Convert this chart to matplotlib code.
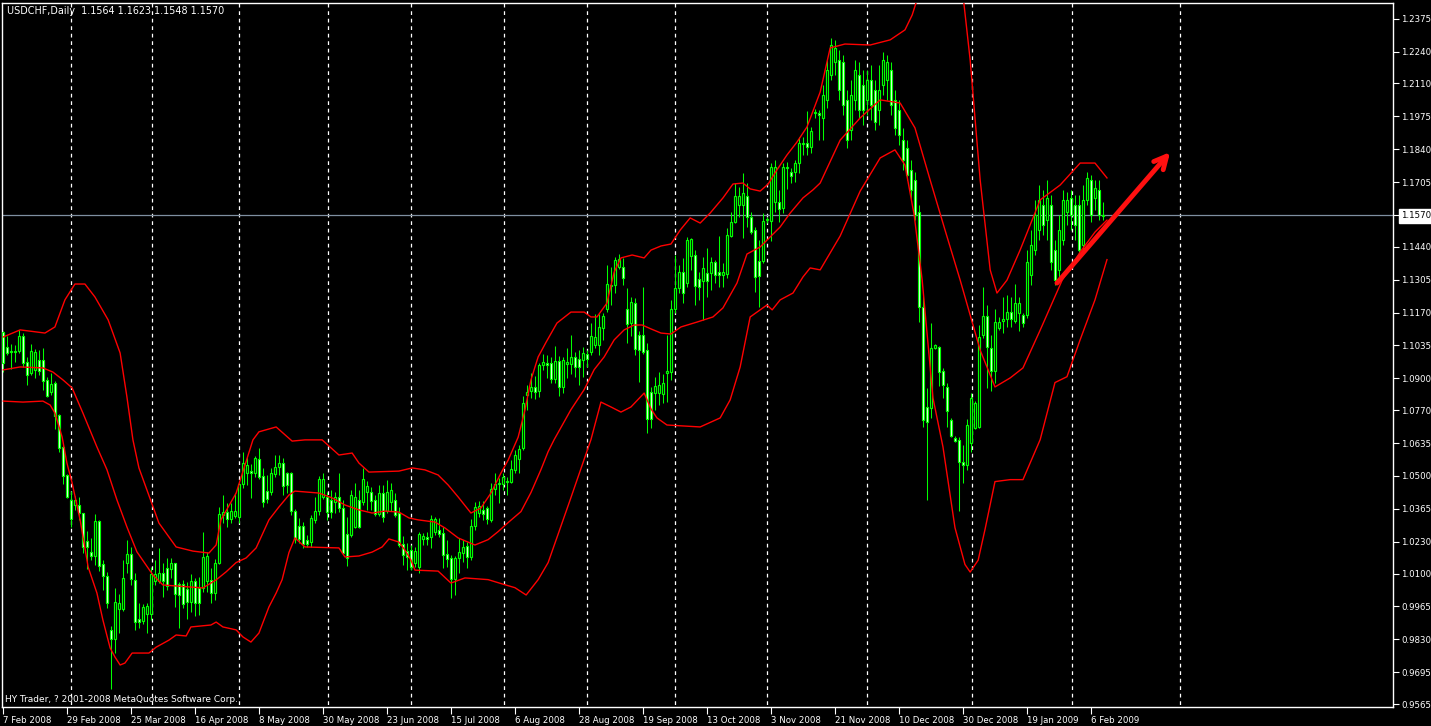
import numpy as np
import matplotlib
matplotlib.use("Agg")
import matplotlib.pyplot as plt

# ---------------- data ----------------
body_hi = [
 1.1090,1.1029,1.1012,1.1011,1.1074,1.1074,1.0969,1.1014,1.1007,1.0974,
 1.0976,1.0894,1.0877,1.0880,1.0750,1.0618,1.0503,1.0402,1.0402,1.0380,
 1.0347,1.0233,1.0187,1.0316,1.0316,1.0138,1.0090,0.9870,0.9983,0.9978,
 1.0081,1.0179,1.0179,1.0074,0.9912,0.9961,0.9967,1.0097,1.0098,1.0104,
 1.0104,1.0121,1.0145,1.0142,1.0056,1.0056,1.0038,1.0068,1.0068,1.0042,
 1.0166,1.0172,1.0074,1.0145,1.0343,1.0351,1.0351,1.0358,1.0358,1.0467,
 1.0552,1.0545,1.0520,1.0572,1.0568,1.0500,1.0438,1.0511,1.0538,1.0552,
 1.0552,1.0511,1.0511,1.0358,1.0295,1.0295,1.0238,1.0327,1.0358,1.0486,
 1.0486,1.0412,1.0402,1.0412,1.0412,1.0367,1.0261,1.0422,1.0415,1.0402,
 1.0486,1.0459,1.0433,1.0402,1.0429,1.0429,1.0436,1.0443,1.0402,1.0347,
 1.0220,1.0192,1.0197,1.0194,1.0262,1.0254,1.0248,1.0322,1.0322,1.0279,
 1.0265,1.0180,1.0163,1.0163,1.0190,1.0208,1.0213,1.0295,1.0374,1.0377,
 1.0361,1.0367,1.0445,1.0466,1.0472,1.0495,1.0481,1.0528,1.0586,1.0609,
 1.0798,1.0846,1.0866,1.0866,1.0955,1.0969,1.0965,1.0962,1.0971,1.0971,
 1.0976,1.0969,1.0989,1.0989,1.0978,1.1003,1.1000,1.1074,1.1068,1.1112,
 1.1156,1.1286,1.1283,1.1386,1.1388,1.1355,1.1183,1.1214,1.1210,1.1078,
 1.1078,1.1016,1.0846,1.0869,1.0873,1.0880,1.0930,1.1183,1.1270,1.1338,
 1.1338,1.1468,1.1470,1.1406,1.1306,1.1352,1.1334,1.1376,1.1376,1.1335,
 1.1335,1.1488,1.1543,1.1648,1.1648,1.1659,1.1648,1.1561,1.1508,1.1383,
 1.1547,1.1553,1.1766,1.1766,1.1624,1.1768,1.1768,1.1748,1.1782,1.1864,
 1.1864,1.1864,1.1914,1.1993,1.1987,1.2062,1.2165,1.2268,1.2255,1.2206,
 1.2198,1.2042,1.2062,1.2165,1.2144,1.2103,1.2124,1.2124,1.2083,1.2083,
 1.2206,1.2198,1.2165,1.2042,1.2001,1.1878,1.1845,1.1755,1.1714,1.1582,
 1.1192,1.0781,1.1023,1.1036,1.1028,1.0930,1.0866,1.0730,1.0654,1.0648,
 1.0559,1.0709,1.0819,1.0801,1.1071,1.1156,1.1156,1.1023,1.1133,1.1133,
 1.1142,1.1174,1.1174,1.1210,1.1210,1.1160,1.1377,1.1447,1.1570,1.1632,
 1.1611,1.1640,1.1611,1.1427,1.1509,1.1632,1.1632,1.1640,1.1611,1.1611,
 1.1632,1.1722,1.1714,1.1681,1.1673,1.1570]

body_lo = [
 1.0963,1.1004,1.1010,1.1009,1.1012,1.0963,1.0914,1.0923,1.0934,1.0931,
 1.0891,1.0828,1.0846,1.0746,1.0616,1.0501,1.0415,1.0322,1.0381,1.0350,
 1.0210,1.0210,1.0173,1.0173,1.0132,1.0091,0.9981,0.9830,0.9830,0.9954,
 0.9954,1.0142,1.0077,0.9903,0.9903,0.9907,0.9933,0.9933,1.0071,1.0071,
 1.0069,1.0049,1.0117,1.0016,1.0010,0.9975,0.9985,0.9985,0.9981,0.9981,
 1.0042,1.0069,1.0022,1.0022,1.0145,1.0340,1.0322,1.0322,1.0336,1.0333,
 1.0466,1.0513,1.0511,1.0511,1.0495,1.0395,1.0404,1.0436,1.0507,1.0538,
 1.0460,1.0463,1.0356,1.0240,1.0240,1.0221,1.0221,1.0230,1.0320,1.0358,
 1.0412,1.0353,1.0353,1.0395,1.0367,1.0186,1.0163,1.0258,1.0292,1.0290,
 1.0395,1.0436,1.0399,1.0345,1.0345,1.0331,1.0358,1.0395,1.0340,1.0217,
 1.0176,1.0169,1.0126,1.0142,1.0126,1.0240,1.0240,1.0248,1.0272,1.0262,
 1.0176,1.0159,1.0077,1.0077,1.0163,1.0186,1.0167,1.0167,1.0295,1.0347,
 1.0344,1.0322,1.0320,1.0445,1.0467,1.0467,1.0477,1.0477,1.0525,1.0568,
 1.0613,1.0832,1.0850,1.0846,1.0850,1.0955,1.0955,1.0896,1.0896,1.0863,
 1.0863,1.0959,1.0959,1.0945,1.0945,1.0976,1.0978,1.1010,1.1037,1.1037,
 1.1105,1.1183,1.1279,1.1283,1.1358,1.1310,1.1123,1.1126,1.1019,1.1016,
 1.1010,1.0732,1.0732,1.0839,1.0841,1.0836,1.0921,1.0927,1.1183,1.1270,
 1.1249,1.1290,1.1402,1.1279,1.1276,1.1301,1.1301,1.1331,1.1324,1.1324,
 1.1324,1.1328,1.1484,1.1543,1.1611,1.1611,1.1561,1.1502,1.1317,1.1320,
 1.1383,1.1551,1.1547,1.1624,1.1593,1.1597,1.1762,1.1730,1.1748,1.1782,
 1.1861,1.1850,1.1850,1.1987,1.1980,1.1968,1.2042,1.2144,1.2198,1.2083,
 1.2021,1.1878,1.1919,1.2042,1.2001,1.2001,1.2042,1.2021,1.1951,1.2001,
 1.2103,1.2124,1.2021,1.1927,1.1898,1.1796,1.1734,1.1673,1.1570,1.1193,
 1.0730,1.0723,1.0777,1.1026,1.0927,1.0873,1.0768,1.0664,1.0645,1.0559,
 1.0545,1.0545,1.0637,1.0698,1.0702,1.1078,1.1028,1.0931,1.0931,1.1106,
 1.1137,1.1142,1.1142,1.1137,1.1167,1.1126,1.1160,1.1324,1.1427,1.1508,
 1.1529,1.1550,1.1377,1.1303,1.1345,1.1468,1.1582,1.1570,1.1529,1.1427,
 1.1447,1.1632,1.1570,1.1640,1.1570,1.1564]

high = [
 1.1095,1.1074,1.1041,1.1037,1.1099,1.1086,1.0989,1.1041,1.1019,1.1016,
 1.1023,1.0907,1.0923,1.0891,1.0753,1.0634,1.0508,1.0440,1.0418,1.0415,
 1.0350,1.0276,1.0244,1.0345,1.0320,1.0156,1.0108,0.9885,1.0041,1.0016,
 1.0156,1.0238,1.0210,1.0101,0.9978,0.9975,0.9978,1.0128,1.0156,1.0203,
 1.0142,1.0162,1.0162,1.0145,1.0067,1.0074,1.0064,1.0098,1.0080,1.0087,
 1.0272,1.0190,1.0121,1.0158,1.0372,1.0422,1.0388,1.0388,1.0429,1.0470,
 1.0597,1.0582,1.0549,1.0582,1.0613,1.0531,1.0504,1.0531,1.0586,1.0586,
 1.0572,1.0518,1.0518,1.0363,1.0326,1.0312,1.0258,1.0340,1.0415,1.0500,
 1.0513,1.0435,1.0443,1.0435,1.0511,1.0402,1.0333,1.0443,1.0470,1.0443,
 1.0531,1.0480,1.0456,1.0422,1.0463,1.0463,1.0484,1.0470,1.0429,1.0374,
 1.0254,1.0224,1.0217,1.0210,1.0272,1.0266,1.0272,1.0340,1.0333,1.0326,
 1.0292,1.0238,1.0176,1.0170,1.0244,1.0238,1.0230,1.0322,1.0395,1.0399,
 1.0399,1.0377,1.0470,1.0511,1.0490,1.0511,1.0497,1.0566,1.0607,1.0627,
 1.0828,1.0873,1.0921,1.0910,1.0962,1.1000,1.0996,1.0987,1.1033,1.0992,
 1.0989,1.1023,1.1078,1.1009,1.1016,1.1030,1.1016,1.1126,1.1164,1.1166,
 1.1169,1.1365,1.1358,1.1397,1.1410,1.1392,1.1270,1.1235,1.1228,1.1096,
 1.1274,1.1044,1.0866,1.0907,1.0927,1.0918,1.1078,1.1222,1.1406,1.1365,
 1.1392,1.1481,1.1474,1.1427,1.1338,1.1399,1.1433,1.1399,1.1386,1.1484,
 1.1372,1.1515,1.1584,1.1700,1.1686,1.1741,1.1702,1.1584,1.1522,1.1468,
 1.1577,1.1563,1.1782,1.1796,1.1673,1.1782,1.1789,1.1762,1.1796,1.1891,
 1.1889,1.1996,1.1932,1.2003,1.2000,1.2103,1.2206,1.2296,1.2288,1.2247,
 1.2226,1.2083,1.2124,1.2206,1.2198,1.2165,1.2165,1.2185,1.2124,1.2185,
 1.2238,1.2226,1.2198,1.2083,1.2042,1.1927,1.1878,1.1796,1.1747,1.1611,
 1.1238,1.0859,1.1126,1.1041,1.1033,1.0941,1.0880,1.0736,1.0664,1.0661,
 1.0627,1.0732,1.0839,1.0809,1.1119,1.1276,1.1201,1.1078,1.1183,1.1153,
 1.1232,1.1242,1.1235,1.1287,1.1232,1.1167,1.1427,1.1509,1.1632,1.1693,
 1.1673,1.1714,1.1652,1.1468,1.1570,1.1673,1.1664,1.1673,1.1652,1.1652,
 1.1693,1.1746,1.1734,1.1714,1.1714,1.1623]

low = [
 1.0926,1.0996,1.0939,1.0969,1.1005,1.0948,1.0873,1.0914,1.0900,1.0914,
 1.0852,1.0825,1.0832,1.0694,1.0600,1.0467,1.0408,1.0292,1.0361,1.0320,
 1.0183,1.0118,1.0156,1.0135,1.0112,1.0032,0.9957,0.9625,0.9773,0.9855,
 0.9948,1.0101,1.0053,0.9868,0.9876,0.9893,0.9858,0.9910,1.0053,1.0060,
 1.0003,1.0033,1.0080,0.9963,0.9876,0.9957,0.9912,0.9944,0.9925,0.9930,
 1.0026,1.0026,0.9981,0.9992,1.0140,1.0306,1.0290,1.0306,1.0327,1.0306,
 1.0450,1.0463,1.0411,1.0497,1.0486,1.0374,1.0388,1.0422,1.0497,1.0504,
 1.0422,1.0429,1.0340,1.0224,1.0224,1.0203,1.0210,1.0207,1.0306,1.0340,
 1.0404,1.0320,1.0327,1.0347,1.0353,1.0183,1.0131,1.0251,1.0285,1.0285,
 1.0381,1.0361,1.0361,1.0336,1.0336,1.0312,1.0350,1.0358,1.0333,1.0210,
 1.0135,1.0115,1.0115,1.0125,1.0101,1.0217,1.0217,1.0203,1.0258,1.0251,
 1.0121,1.0128,0.9999,1.0012,1.0101,1.0149,1.0121,1.0156,1.0279,1.0333,
 1.0320,1.0303,1.0312,1.0422,1.0388,1.0443,1.0422,1.0470,1.0511,1.0511,
 1.0607,1.0771,1.0819,1.0815,1.0822,1.0934,1.0900,1.0880,1.0882,1.0828,
 1.0841,1.0900,1.0918,1.0907,1.0873,1.0907,1.0948,1.0996,1.1023,1.0996,
 1.1058,1.1174,1.1201,1.1249,1.1347,1.1283,1.1045,1.1072,1.0996,1.0887,
 1.1000,1.0675,1.0695,1.0771,1.0791,1.0798,1.0805,1.0894,1.1167,1.1249,
 1.1208,1.1276,1.1345,1.1201,1.1222,1.1140,1.1235,1.1262,1.1290,1.1274,
 1.1276,1.1310,1.1479,1.1536,1.1563,1.1474,1.1522,1.1492,1.1256,1.1194,
 1.1372,1.1536,1.1465,1.1584,1.1543,1.1579,1.1676,1.1702,1.1706,1.1744,
 1.1816,1.1816,1.1823,1.1966,1.1878,1.1878,1.2009,1.2124,1.2144,1.2042,
 1.1980,1.1845,1.1878,1.2001,1.1968,1.1939,1.1980,1.1960,1.1919,1.1939,
 1.2062,1.2042,1.1980,1.1898,1.1857,1.1755,1.1714,1.1632,1.1550,1.1133,
 1.0700,1.0402,1.0736,1.1019,1.0869,1.0819,1.0702,1.0659,1.0641,1.0358,
 1.0470,1.0525,1.0600,1.0691,1.0695,1.1064,1.0859,1.0850,1.0880,1.1099,
 1.1085,1.1112,1.1112,1.1128,1.1096,1.1112,1.1148,1.1283,1.1406,1.1468,
 1.1488,1.1468,1.1345,1.1283,1.1303,1.1447,1.1529,1.1509,1.1468,1.1406,
 1.1427,1.1611,1.1542,1.1591,1.1550,1.1548]

# B = bull candle (black body), S = bear candle (white body)
direction = ("SSSSBSSBBS" "SSBSSSSSBS" "SSSBSSSSBB" "BBSSSBBBBB" "SSBSSSSBSS"
             "BBSBBBSBBB" "BBSBSSSBBB" "SSSSSSSBBB" "BSSBSSSBBS" "BBSSBSBBSS"
             "SSSBBBSBBS" "SSSBBBSBBB" "SSBBBBSBBB" "BBBSBBSSBS" "BBBSSBSBBB"
             "BBBBBSSBSS" "SSSBBBBBBB" "SBBSSBSBSS" "BBBBBBSSSS" "BBBBSBBSBB"
             "BSBBSBBBBS" "SSBBSSBSSB" "BBSSSSSSSS" "SSBBSSSSSS" "SBBBBBSSBB"
             "BBSBBSBBBB" "SBSSBBBSSS" "BBSBSB")

# Bollinger bands (upper / middle / lower), sampled along the bar axis
upper_bar = [0,4.2,10.4,12.9,15.4,17.9,20.4,22.9,26.2,27.4,29.2,30.9,32.4,33.9,38.9,43.2,47.4,51.4,53.2,54.4,
             58.2,62.4,63.9,68.2,72.2,75.4,79.7,83.9,87.2,88.9,91.4,98.9,102.2,105.4,108.7,111.2,113.7,116.9,119.4,
             121.9,124.4,126.2,128.7,130.4,131.9,133.7,135.7,138.4,141.9,145.2,146.9,148.4,150.9,152.7,154.4,157.2,
             160.2,161.9,164.4,166.9,169.2,171.7,174.2,176.7,179.9,182.4,184.9,186.7,189.2,191.2,193.4,195.9,198.4,
             200.9,204.2,206.7,210.4,216.7,221.7,225.4,227.2,228.4,230.4,234.2,237.9,239.9,241.7,244.2,246.7,248.4,
             250.9,254.2,259.2,264.2,269.2,272.9,275.9]
upper_val = [1.1070,1.1099,1.1086,1.1111,1.1222,1.1287,1.1287,1.1234,1.1140,1.1086,1.1004,1.0824,1.0648,1.0533,
             1.0307,1.0209,1.0192,1.0184,1.0217,1.0320,1.0430,1.0648,1.0681,1.0701,1.0643,1.0648,1.0648,1.0586,
             1.0594,1.0553,1.0516,1.0520,1.0533,1.0525,1.0504,1.0463,1.0414,1.0348,1.0369,1.0430,1.0512,1.0565,
             1.0659,1.0770,1.0894,1.0988,1.1049,1.1127,1.1172,1.1172,1.1152,1.1152,1.1209,1.1336,1.1394,1.1406,
             1.1394,1.1426,1.1443,1.1451,1.1508,1.1558,1.1537,1.1578,1.1640,1.1697,1.1701,1.1677,1.1668,1.1697,
             1.1755,1.1816,1.1869,1.1931,1.2074,1.2255,1.2271,1.2267,1.2288,1.2329,1.2390,1.2452,1.2698,1.2862,
             1.2780,1.2472,1.2205,1.1713,1.1345,1.1250,1.1303,1.1427,1.1632,1.1693,1.1783,1.1783,1.1722]

middle_bar = [0,4.2,9.9,12.4,14.9,17.2,19.9,23.4,25.9,28.4,30.9,33.4,37.4,39.9,49.9,53.2,55.7,58.2,60.7,63.2,
              66.4,68.9,71.4,72.9,78.9,82.2,85.4,88.9,92.2,95.4,98.9,101.4,103.7,107.9,110.4,113.7,117.9,121.2,
              123.7,126.2,129.4,131.9,134.4,136.2,137.7,141.9,145.2,147.7,150.2,152.7,155.2,157.7,159.7,161.9,
              164.4,166.9,169.4,173.4,177.4,179.9,183.4,185.9,189.2,191.7,194.2,196.7,199.9,202.4,204.2,209.2,
              214.2,219.2,224.2,227.9,231.7,235.4,239.2,244.2,247.9,251.7,254.9,259.2,264.7,269.2,272.9,275.9]
middle_val = [1.0935,1.0947,1.0943,1.0926,1.0894,1.0861,1.0758,1.0619,1.0526,1.0402,1.0291,1.0189,1.0094,1.0053,
              1.0041,1.0074,1.0107,1.0145,1.0164,1.0205,1.0320,1.0373,1.0422,1.0438,1.0430,1.0410,1.0381,1.0361,
              1.0348,1.0356,1.0352,1.0328,1.0320,1.0311,1.0287,1.0246,1.0217,1.0239,1.0272,1.0309,1.0354,1.0432,
              1.0526,1.0600,1.0649,1.0772,1.0854,1.0936,1.0988,1.1058,1.1099,1.1119,1.1119,1.1103,1.1086,1.1082,
              1.1111,1.1131,1.1152,1.1189,1.1291,1.1410,1.1439,1.1480,1.1521,1.1578,1.1640,1.1673,1.1701,1.1877,
              1.1968,1.2042,1.2029,1.1927,1.1713,1.1509,1.1303,1.1016,1.0865,1.0902,1.0943,1.1098,1.1303,1.1418,
              1.1500,1.1549]

lower_bar = [0,4.9,9.9,11.7,12.9,14.7,15.9,17.2,19.2,21.2,23.4,24.9,26.7,27.9,29.2,30.4,32.2,36.4,38.2,41.4,
             43.2,45.7,46.9,51.9,53.2,54.9,58.2,59.9,61.9,63.9,66.4,68.2,69.7,71.4,72.9,75.4,83.9,85.4,88.9,92.2,
             94.7,96.4,98.9,100.4,101.9,102.9,108.7,111.9,115.4,121.2,125.4,127.9,130.7,133.7,136.2,141.7,146.9,
             149.4,151.9,154.4,156.9,160.2,161.9,163.4,165.9,174.2,179.2,181.7,184.2,186.7,190.9,192.2,194.2,
             197.4,199.9,201.7,204.2,209.2,214.2,219.2,222.9,225.4,227.7,229.7,232.4,234.9,237.9,240.4,241.7,
             243.7,245.4,247.9,251.7,254.9,259.2,262.9,265.9,269.2,272.9,275.9]
lower_val = [1.0807,1.0803,1.0807,1.0791,1.0758,1.0660,1.0553,1.0471,1.0320,1.0127,1.0020,0.9909,0.9795,0.9758,
             0.9725,0.9733,0.9774,0.9774,0.9798,0.9827,0.9848,0.9844,0.9881,0.9889,0.9901,0.9881,0.9869,0.9840,
             0.9819,0.9856,0.9963,1.0020,1.0075,1.0186,1.0246,1.0209,1.0205,1.0168,1.0172,1.0188,1.0209,1.0242,
             1.0229,1.0196,1.0155,1.0114,1.0110,1.0061,1.0082,1.0075,1.0054,1.0042,1.0012,1.0075,1.0145,1.0402,
             1.0649,1.0803,1.0783,1.0762,1.0783,1.0840,1.0775,1.0738,1.0709,1.0701,1.0738,1.0812,1.0947,1.1152,
             1.1201,1.1181,1.1222,1.1250,1.1316,1.1353,1.1345,1.1484,1.1668,1.1804,1.1837,1.1775,1.1570,1.1303,
             1.0820,1.0619,1.0288,1.0137,1.0106,1.0155,1.0280,1.0477,1.0485,1.0485,1.0649,1.0883,1.0907,1.1059,
             1.1222,1.1387]

date_labels = ["7 Feb 2008", "29 Feb 2008", "25 Mar 2008", "16 Apr 2008", "8 May 2008",
               "30 May 2008", "23 Jun 2008", "15 Jul 2008", "6 Aug 2008", "28 Aug 2008",
               "19 Sep 2008", "13 Oct 2008", "3 Nov 2008", "21 Nov 2008", "10 Dec 2008",
               "30 Dec 2008", "19 Jan 2009", "6 Feb 2009"]
date_bars = [0, 16, 32, 48, 64, 80, 96, 112, 128, 144, 160, 176, 192, 208, 224, 240, 256, 272]

price_ticks = [1.2375, 1.2240, 1.2110, 1.1975, 1.1840, 1.1705, 1.1570, 1.1440, 1.1305, 1.1170,
               1.1035, 1.0900, 1.0770, 1.0635, 1.0500, 1.0365, 1.0230, 1.0100, 0.9965, 0.9830,
               0.9695, 0.9565]
price_labels = ["%.4f" % v for v in price_ticks]

grid_bars = [16.9, 37.2, 58.9, 81.2, 101.9, 125.2, 145.9, 167.9, 190.9, 215.9, 242.2, 267.2, 294.2]

last_price = 1.1570
title_text = "USDCHF,Daily  1.1564 1.1623 1.1548 1.1570"
copyright_text = "HY Trader, ? 2001-2008 MetaQuotes Software Corp."
arrow_from = (263.4, 1.1291)
arrow_to = (291.7, 1.1828)

# ---------------- drawing ----------------
W, H = 1431, 726
fig = plt.figure(figsize=(W / 100, H / 100), dpi=100)
fig.patch.set_facecolor("black")
ax = fig.add_axes([2 / W, 19 / H, 1391 / W, 704 / H])
ax.set_facecolor("black")

n = len(body_hi)
x = np.arange(n)
bhi = np.array(body_hi)
blo = np.array(body_lo)
bull = np.array([c == "B" for c in direction])
opens = np.where(bull, blo, bhi)
closes = np.where(bull, bhi, blo)

lime = "#00FF00"
ax.vlines(grid_bars, 0.9, 1.3, colors="white", linestyles=(0, (3, 3)), linewidth=0.9, zorder=1)
ax.axhline(last_price, color="#7F8FA0", linewidth=0.9, zorder=1.5)

ax.vlines(x, low, high, colors=lime, linewidth=0.75, zorder=2)
bottoms = np.minimum(opens, closes)
heights = np.maximum(np.abs(closes - opens), 0.00005)
ax.bar(x, heights, bottom=bottoms, width=0.45,
       color=np.where(bull, "black", "white"), edgecolor=lime, linewidth=0.85, zorder=3)

for bx, bv in ((upper_bar, upper_val), (middle_bar, middle_val), (lower_bar, lower_val)):
    ax.plot(bx, bv, color="#FF0000", linewidth=1.0, zorder=4)

ax.annotate("", xy=arrow_to, xytext=arrow_from,
            arrowprops=dict(arrowstyle="->,head_length=0.9,head_width=0.45",
                            color="#FF1010", linewidth=3.5, shrinkA=0, shrinkB=0),
            zorder=5)

ax.set_xlim(-0.33, 347.4)
ax.set_ylim(0.95528, 1.24392)

for side in ("left", "top", "right", "bottom"):
    ax.spines[side].set_color("white")
    ax.spines[side].set_linewidth(1.0)

ax.yaxis.tick_right()
ax.set_yticks(price_ticks)
ax.set_yticklabels(price_labels)
ax.tick_params(axis="y", colors="white", direction="out", length=4, width=0.8, pad=2,
               labelsize=6.2, labelcolor="white")
ax.set_xticks(date_bars)
ax.set_xticklabels(date_labels)
ax.tick_params(axis="x", colors="white", direction="out", length=5, width=0.8, pad=1.5,
               labelsize=6.2, labelcolor="white")
for lbl in ax.get_xticklabels():
    lbl.set_horizontalalignment("left")
for lbl, v in zip(ax.get_yticklabels(), price_ticks):
    if abs(v - last_price) < 1e-9:
        lbl.set_color("black")
        lbl.set_bbox(dict(facecolor="white", edgecolor="white", pad=1.6))

fig.text(7 / W, 1 - 11 / H, title_text, color="white", fontsize=6.9, va="center", ha="left")
fig.text(5 / W, 1 - 700 / H, copyright_text, color="white", fontsize=6.5, va="center", ha="left")

fig.savefig("out.png", dpi=100, facecolor="black")
